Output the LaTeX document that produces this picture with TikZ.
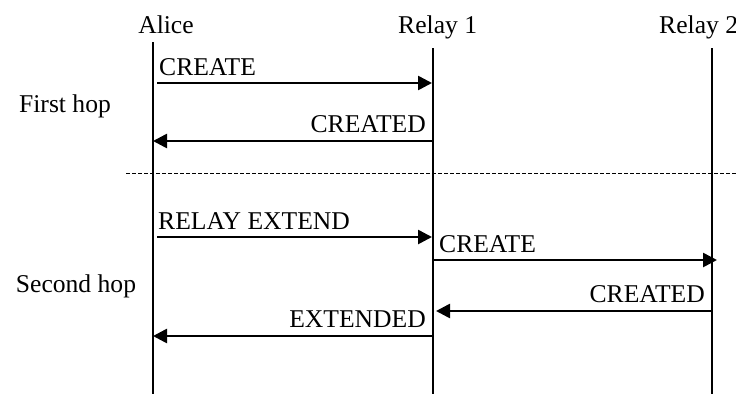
\documentclass[tikz,border=0pt]{standalone}
\usepackage{fontspec}
\setmainfont{Liberation Serif}
\usetikzlibrary{arrows.meta}
\begin{document}
\begin{tikzpicture}[x=1pt,y=-1pt,
  lifeline/.style={line width=1.4pt},
  msg/.style={line width=2.6pt,-{Triangle[length=14pt,width=14pt]}},
  lbl/.style={inner sep=0pt,font=\fontsize{25.6}{30}\selectfont},
  divider/.style={line width=0.9pt,dash pattern=on 4pt off 2pt}]
\useasboundingbox (0,0) rectangle (736,397);

% participants
\node[lbl,anchor=base] (alice) at (166,33) {Alice};
\node[lbl,anchor=base west] (relayA) at (398,33) {Relay 1};
\node[lbl,anchor=base west] (relayB) at (659,33) {Relay 2};

% lifelines
\coordinate (aTop) at (153,42);   \coordinate (aBot) at (153,394);
\coordinate (r1Top) at (433,48);  \coordinate (r1Bot) at (433,394);
\coordinate (r2Top) at (712,48);  \coordinate (r2Bot) at (712,394);
\draw[lifeline] (aTop) -- (aBot);
\draw[lifeline] (r1Top) -- (r1Bot);
\draw[lifeline] (r2Top) -- (r2Bot);

% phase labels and separator
\node[lbl,anchor=base] (hop1) at (65,112) {First hop};
\node[lbl,anchor=base] (hop2) at (76,292) {Second hop};
\coordinate (sepL) at (126,173); \coordinate (sepR) at (736,173);
\draw[divider] (sepL) -- (sepR);

% first hop messages
\coordinate (m1s) at (157,83);  \coordinate (m1e) at (432,83);
\draw[msg] (m1s) -- (m1e);
\node[lbl,anchor=base west] (m1) at (159,75) {CREATE};

\coordinate (m2s) at (433,141); \coordinate (m2e) at (153,141);
\draw[msg] (m2s) -- (m2e);
\node[lbl,anchor=base east] (m2) at (426,132) {CREATED};

% second hop messages
\coordinate (m3s) at (157,237); \coordinate (m3e) at (432,237);
\draw[msg] (m3s) -- (m3e);
\node[lbl,anchor=base west] (m3) at (158,229) {RELAY EXTEND};

\coordinate (m4s) at (433,260); \coordinate (m4e) at (717,260);
\draw[msg] (m4s) -- (m4e);
\node[lbl,anchor=base west] (m4) at (439,252) {CREATE};

\coordinate (m5s) at (712,311); \coordinate (m5e) at (436,311);
\draw[msg] (m5s) -- (m5e);
\node[lbl,anchor=base east] (m5) at (705,302) {CREATED};

\coordinate (m6s) at (433,336); \coordinate (m6e) at (153,336);
\draw[msg] (m6s) -- (m6e);
\node[lbl,anchor=base east] (m6) at (426,327) {EXTENDED};
\end{tikzpicture}
\end{document}
